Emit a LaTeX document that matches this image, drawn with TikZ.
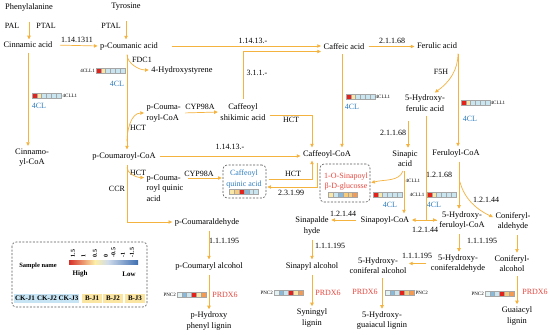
\documentclass[tikz,border=0pt]{standalone}
\usepackage{fontspec}
\setmainfont{Liberation Serif}
\usetikzlibrary{arrows.meta}
\definecolor{flowc}{HTML}{F4B23E}
\definecolor{enzblue}{HTML}{2F7DBE}
\definecolor{enzred}{HTML}{E8453C}
\definecolor{hR}{HTML}{E3221C}
\definecolor{hY}{HTML}{F8E7A6}
\definecolor{hOY}{HTML}{F7CB7A}
\definecolor{hO}{HTML}{F39A55}
\definecolor{hLB}{HTML}{C9E5F0}
\definecolor{hMB}{HTML}{86B9DA}
\definecolor{hP}{HTML}{E2F1F1}
\definecolor{barR}{HTML}{D7302B}
\definecolor{barY}{HTML}{FDEFA8}
\definecolor{barB}{HTML}{3F6FB0}
\definecolor{ckfill}{HTML}{C6E4F3}
\definecolor{bfill}{HTML}{FBE5A2}

% heat map strip: left x, top y, six colours
\newcommand{\hmap}[3]{\foreach \c [count=\i from 0] in {#3}
  \draw[hmcell,fill=\c] ({#1+\i*4.8},#2) rectangle ++(4.8,5.5);}

\begin{document}
\begin{tikzpicture}[x=1pt,y=-1pt,
  every node/.style={font=\fontsize{8.4}{10.4}\selectfont,inner sep=1.5pt,align=center},
  flow/.style={draw=flowc,line width=0.7pt,-{Triangle[length=3.6pt,width=3.4pt]},
    shorten <=3pt,shorten >=1pt},
  link/.style={draw=flowc,line width=0.7pt,shorten <=3pt},
  enz/.style={font=\fontsize{8}{9}\selectfont},
  cl/.style={text=enzblue,font=\fontsize{8}{10.4}\selectfont},
  prdx/.style={text=enzred,font=\fontsize{8}{10.4}\selectfont},
  tag/.style={font=\fontsize{5}{5}\selectfont,inner sep=0.5pt},
  hmcell/.style={draw=gray!70,line width=0.25pt},
  dbox/.style={draw=black!65,dash pattern=on 2pt off 1.5pt,rounded corners=4pt,line width=0.6pt},
  tick/.style={font=\bfseries\fontsize{6}{6}\selectfont,rotate=90,anchor=west,inner sep=0.5pt},
  samp/.style={font=\bfseries\fontsize{7}{7}\selectfont,inner sep=1pt,minimum width=20.5pt,minimum height=9pt}]
  \useasboundingbox (0,0) rectangle (550,335);
  \coordinate (stem) at (127,0);

  % compounds
  \node (phe) at (29,7) {Phenylalanine};
  \node (tyr) at (126,7) {Tyrosine};
  \node (cin) at (28,45) {Cinnamic acid};
  \node (pcou) at (129,46) {p-Coumanic acid};
  \node (caf) at (344,46.5) {Caffeic acid};
  \node (fer) at (437,46) {Ferulic acid};
  \node (hsty) at (182,70) {4-Hydroxystyrene};
  \node[align=left,anchor=west] (pcoaU) at (145,113) {p-Couma-\\royl-CoA};
  \node (cshik) at (243,112) {Caffeoyl\\shikimic acid};
  \node (pcoa) at (124,156) {p-Coumaroyl-CoA};
  \node (cafcoa) at (327,154) {Caffeoyl-CoA};
  \node (cinncoa) at (32,157.5) {Cinnamo-\\yl-CoA};
  \node (hfer) at (425,103) {5-Hydroxy-\\ferulic acid};
  \node (sina) at (405,158.5) {Sinapic\\acid};
  \node (fercoa) at (456,153) {Feruloyl-CoA};
  \node[align=left,anchor=west] (pcqa) at (145,188) {p-Couma-\\royl quinic\\acid};
  \node (pcald) at (207,222) {p-Coumaraldehyde};
  \node (sinald) at (312,226) {Sinapalde\\hyde};
  \node (sincoa) at (385,220) {Sinapoyl-CoA};
  \node (hfercoa) at (462,220.5) {5-Hydroxy-\\feruloyl-CoA};
  \node (conald) at (513,221.5) {Coniferyl-\\aldehyde};
  \node (pcalc) at (209,266) {p-Coumaryl alcohol};
  \node (sinalc) at (312,266) {Sinapyl alcohol};
  \node (hconalc) at (378,265.5) {5-Hydroxy-\\coniferal alcohol};
  \node (hconald) at (458,263.5) {5-Hydroxy-\\coniferaldehyde};
  \node (conalc) at (512,263.5) {Coniferyl-\\alcohol};
  \node (hlig) at (209,321) {p-Hydroxy\\phenyl lignin};
  \node (slig) at (312,318) {Syningyl\\lignin};
  \node (hglig) at (382,320.5) {5-Hydroxy-\\guaiacul lignin};
  \node (glig) at (517,316) {Guaiacyl\\lignin};

  % boxed metabolites
  \node[dbox,minimum width=43pt,minimum height=33pt] (cqabox) at (244.5,181.5) {};
  \node[cl] (cqa) at (244,179) {Caffeoyl\\quinic acid};
  \hmap{229.5}{189}{hY,hOY,hR,hMB,hLB,hLB}
  \node[dbox,minimum width=50pt,minimum height=38pt] (sgbox) at (345,183) {};
  \node[prdx] (sg) at (346,181.5) {1-O-Sinapoyl\\β-D-glucosse};
  \hmap{328.5}{192}{hY,hLB,hMB,hOY,hOY,hO}

  % enzymes
  \node[enz] (ePAL) at (12,26) {PAL};
  \node[enz] (ePTALa) at (46,26) {PTAL};
  \node[enz] (ePTALb) at (111,26) {PTAL};
  \node[enz] (e1141311) at (77,40) {1.14.1311};
  \node[enz] (eFDC) at (142,60) {FDC1};
  \node[enz] (e11413a) at (253,41) {1.14.13.-};
  \node[enz] (e311) at (257,73) {3.1.1.-};
  \node[enz] (e2116a) at (392,41) {2.1.1.68};
  \node[enz] (eF5H) at (441,72) {F5H};
  \node[enz] (eHCTa) at (138,128) {HCT};
  \node[enz] (eCYPa) at (200,107) {CYP98A};
  \node[enz] (eHCTb) at (291,120) {HCT};
  \node[enz] (e11413b) at (230,147) {1.14.13.-};
  \node[enz] (e2116b) at (393,133) {2.1.1.68};
  \node[enz] (eHCTc) at (138,173) {HCT};
  \node[enz] (eCYPb) at (199,174) {CYP98A};
  \node[enz] (eCCR) at (117,189) {CCR};
  \node[enz] (eHCTd) at (293,174) {HCT};
  \node[enz] (e23199) at (291,193) {2.3.1.99};
  \node[enz] (e12168) at (439,175) {1.2.1.68};
  \node[enz] (e12144a) at (486,200) {1.2.1.44};
  \node[enz] (e12144b) at (343,214) {1.2.1.44};
  \node[enz] (e12144c) at (425,230) {1.2.1.44};
  \node[enz] (e111a) at (224,241) {1.1.1.195};
  \node[enz] (e111b) at (330,246) {1.1.1.195};
  \node[enz] (e111c) at (482,241) {1.1.1.195};
  \node[enz] (e111d) at (417,256) {1.1.1.195};

  % gene heat maps
  \hmap{32}{93}{hR,hY,hLB,hLB,hLB,hLB}
  \node[tag,anchor=west] (t1) at (62,96) {4CLL1};
  \node[cl] (c1) at (39,106) {4CL};
  \hmap{96}{68}{hR,hY,hLB,hLB,hLB,hLB}
  \node[tag,anchor=east] (t2) at (95.5,71) {4CLL1};
  \node[cl] (c2) at (117,84) {4CL};
  \hmap{346}{94}{hR,hY,hLB,hLB,hLB,hLB}
  \node[tag,anchor=west] (t3) at (375,97) {4CLL1};
  \node[cl] (c3) at (352,107) {4CL};
  \hmap{461}{100}{hR,hY,hLB,hLB,hLB,hLB}
  \node[tag,anchor=west] (t4) at (490,103) {4CLL1};
  \node[cl] (c4) at (470,119) {4CL};
  \hmap{373}{192}{hR,hY,hLB,hLB,hLB,hLB}
  \node[tag,anchor=west] (t5) at (405,181) {4CLL1};
  \node[cl] (c5) at (390,205) {4CL};
  \hmap{427}{192}{hR,hY,hLB,hLB,hLB,hLB}
  \node[tag,anchor=east] (t6) at (425,194.5) {4CLL1};
  \node[cl] (c6) at (434,205) {4CL};
  \hmap{177}{292}{hP,hMB,hLB,hR,hY,hO}
  \node[tag,anchor=east] (t7) at (176.5,295) {PNC2};
  \node[prdx] (r1) at (225,295) {PRDX6};
  \hmap{274}{290}{hP,hMB,hLB,hR,hY,hO}
  \node[tag,anchor=east] (t8) at (273.5,293) {PNC2};
  \node[prdx] (r2) at (328,293) {PRDX6};
  \hmap{385}{290}{hP,hMB,hLB,hR,hOY,hO}
  \node[tag,anchor=west] (t9) at (415,292.5) {PNC2};
  \node[prdx] (r3) at (365,292) {PRDX6};
  \hmap{485}{291}{hP,hMB,hLB,hR,hOY,hO}
  \node[tag,anchor=east] (t10) at (484.5,294) {PNC2};
  \node[prdx] (r4) at (535,292) {PRDX6};

  % reactions
  \draw[flow,shorten <=9pt] (phe.south) -- (phe.south |- cin.north);
  \draw[flow,shorten <=9pt] (tyr.south) -- (tyr.south |- pcou.north);
  \draw[flow,shorten <=6pt] (cin.east) -- (pcou.west);
  \draw[flow] (cin.south) -- (cin.south |- cinncoa.north);
  \draw[flow,shorten <=12pt] (pcou.east) -- (pcou.east -| caf.west);
  \draw[flow] (pcou.south -| stem) to[out=-90,in=180] (hsty.west);
  \draw[flow] (pcou.south -| stem) -- (pcoa.north -| stem);
  \draw[flow] ([yshift=6pt]pcoa.north -| stem) to[out=90,in=180] (pcoaU.west);
  \draw[flow] (pcoaU.east) -- (cshik.west);
  \draw[flow] (cshik.north) |- ([yshift=-5pt]caf.west);
  \draw[flow] ([yshift=-3pt]cshik.east) -| ([xshift=-15pt]cafcoa.north);
  \draw[flow] ([xshift=-2pt]caf.south) -- ([xshift=-2pt]caf.south |- cafcoa.north);
  \draw[flow] (pcoa.east) -- (pcoa.east -| cafcoa.west);
  \draw[flow] ([yshift=-3pt]pcoa.south -| stem) to[out=-90,in=180] ([yshift=10.4pt]pcqa.west);
  \draw[flow] (pcoa.south -| stem) |- (pcald.west);
  \draw[flow] ([yshift=3.5pt]cqabox.west -| pcqa.east) -- ([yshift=3.5pt]cqabox.west);
  \draw[flow] ([yshift=2.5pt]cqabox.east) -| ([xshift=-15pt]cafcoa.south);
  \draw[flow] ([xshift=-10pt]cafcoa.south) |- ([yshift=-5.5pt]cqabox.east);
  \draw[flow] (caf.east) -- (caf.east -| fer.west);
  \draw[flow] ([xshift=21pt]fer.south) -- ([xshift=21pt]fer.south |- fercoa.north);
  \draw[flow] ([xshift=21pt]fer.south) to[out=-90,in=35] ([xshift=9pt]hfer.north);
  \draw[flow,shorten <=8pt] ([xshift=-17pt]hfer.south) -- ([xshift=-17pt]hfer.south |- sina.north);
  \draw[link] ([xshift=1pt]hfer.south) |- ([xshift=-1pt]hfercoa.west);
  \draw[flow] ([xshift=3pt]fercoa.south) -- ([xshift=3pt]fercoa.south |- hfercoa.north);
  \draw[flow] ([xshift=3pt,yshift=-20pt]fercoa.south) to[out=-75,in=155] ([yshift=4pt]conald.west);
  \draw[flow] ([xshift=-1pt]sina.south) -- ([xshift=-1pt]sina.south |- sincoa.north);
  \draw[flow] ([xshift=-1pt]sina.south) to[out=-110,in=15] (sgbox.east);
  \draw[flow,{Triangle[length=3.6pt,width=3.4pt]}-{Triangle[length=3.6pt,width=3.4pt]},shorten <=1pt]
    (sincoa.east) -- (sincoa.east -| hfercoa.west);
  \draw[flow] (sincoa.west) -- (sincoa.west -| sinald.east);
  \draw[flow] (sinald.south) -- (sinald.south |- sinalc.north);
  \draw[flow] (sinalc.south) -- (sinalc.south |- slig.north);
  \draw[flow] ([xshift=2pt]pcald.south) -- ([xshift=2pt]pcald.south |- pcalc.north);
  \draw[flow] (pcalc.south) -- (pcalc.south |- hlig.north);
  \draw[flow] ([xshift=-3pt]hfercoa.south) -- ([xshift=-3pt]hfercoa.south |- hconald.north);
  \draw[flow] (hconald.west) -- (hconald.west -| hconalc.east);
  \draw[flow] ([xshift=4pt]hconalc.south) -- ([xshift=4pt]hconalc.south |- hglig.north);
  \draw[flow] ([xshift=4pt]conald.south) -- ([xshift=4pt]conald.south |- conalc.north);
  \draw[flow] ([xshift=5pt]conalc.south) -- ([xshift=5pt]conalc.south |- glig.north);

  % legend
  \draw[dbox] (12,242) rectangle (147,307);
  \node[font=\bfseries\fontsize{6.5}{7}\selectfont] (sname) at (38,266) {Sample name};
  \shade[left color=barR,right color=barY] (69,260) rectangle (95,264);
  \shade[left color=barY,right color=barB!25] (95,260) rectangle (108,264);
  \shade[left color=barB!25,right color=barB] (108,260) rectangle (138,264);
  \foreach \v/\xx [count=\i] in {1.5/73,1/83.5,0.5/95,0/106,-0.5/113.5,-1/123,-1.5/132}
    \node[tick] (tk\i) at (\xx,258) {\v};
  \node[font=\bfseries\fontsize{7}{7}\selectfont] (hi) at (80,274) {High};
  \node[font=\bfseries\fontsize{7}{7}\selectfont] (lo) at (129,274) {Low};
  \foreach \s/\xx/\cc [count=\i] in {CK-J1/25/ckfill,CK-J2/47/ckfill,CK-J3/68.5/ckfill,
      B-J1/92/bfill,B-J2/113/bfill,B-J3/135/bfill}
    \node[samp,fill=\cc] (s\i) at (\xx,298.5) {\s};
\end{tikzpicture}
\end{document}
